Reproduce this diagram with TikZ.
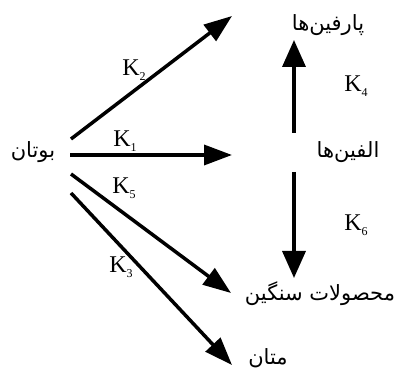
\documentclass[tikz,border=0pt]{standalone}
\usepackage{fontspec}
\setmainfont{Liberation Serif}
\newfontfamily\arabicfont[Script=Arabic]{DejaVu Sans}
\TeXXeTstate=1
\usetikzlibrary{arrows.meta}
\newcommand{\kk}[1]{K\raisebox{-0.45ex}{\fontsize{12}{12}\selectfont #1}}
\begin{document}
\begin{tikzpicture}[x=1pt,y=-1pt,
  fa/.style={font=\arabicfont\fontsize{21}{24}\selectfont, inner sep=0pt},
  kl/.style={font=\fontsize{24}{25}\selectfont, inner sep=0pt},
  conn/.style={line width=3.5pt, -{Triangle[length=28pt,width=20pt]}},
  vconn/.style={line width=3.5pt, -{Triangle[length=27pt,width=23pt]}}]
\useasboundingbox (0,0) rectangle (400,374);
% species
\node[fa] (butane) at (33,152) {\beginR بوتان\endR};
\node[fa] (paraffin) at (328,25) {\beginR پارفین‌ها\endR};
\node[fa] (olefin) at (348,152) {\beginR الفین‌ها\endR};
\node[fa] (heavy) at (320,294) {\beginR محصولات سنگین\endR};
\node[fa] (methane) at (268,358) {\beginR متان\endR};
% connector end points
\coordinate (s2) at (71,139);
\coordinate (e2) at (232,16);
\coordinate (s1) at (70,155);
\coordinate (e1) at (232,155);
\coordinate (s5) at (71,174);
\coordinate (e5) at (231,293);
\coordinate (s3) at (71,193);
\coordinate (e3) at (232,365);
\coordinate (s4) at (294,133);
\coordinate (e4) at (294,40);
\coordinate (s6) at (294,172);
\coordinate (e6) at (294,278);
% connectors
\draw[conn] (s2) -- (e2);
\draw[conn] (s1) -- (e1);
\draw[conn] (s5) -- (e5);
\draw[conn] (s3) -- (e3);
\draw[vconn] (s4) -- (e4);
\draw[vconn] (s6) -- (e6);
% rate labels
\node[kl] (k2) at (134,70) {\kk{2}};
\node[kl] (k1) at (125,141) {\kk{1}};
\node[kl] (k5) at (124,188) {\kk{5}};
\node[kl] (k3) at (121,267) {\kk{3}};
\node[kl] (k4) at (356,86) {\kk{4}};
\node[kl] (k6) at (356,225) {\kk{6}};
\end{tikzpicture}
\end{document}
